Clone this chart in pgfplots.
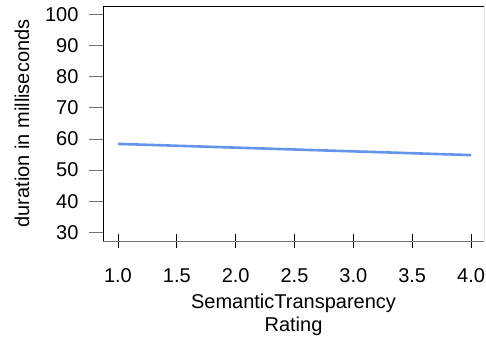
\documentclass[border=0pt]{standalone}
\usepackage{fontspec}
\setmainfont{Liberation Sans}
\usepackage{pgfplots}
\pgfplotsset{compat=1.18}
\definecolor{lineblue}{RGB}{100,149,237}
\begin{document}
\begin{tikzpicture}
\useasboundingbox (-103pt,-97pt) rectangle (383pt,241pt);
\begin{axis}[
  at={(0,0)}, anchor=south west,
  scale only axis, width=381pt, height=235pt,
  xmin=0.873, xmax=4.11, ymin=27.2, ymax=102.7,
  xtick={1,1.5,2,2.5,3,3.5,4},
  xticklabels={1.0,1.5,2.0,2.5,3.0,3.5,4.0},
  ytick={30,40,50,60,70,80,90,100},
  xtick pos=bottom, ytick pos=left,
  xtick align=center, ytick align=outside,
  major tick length=14pt,
  tick style={black!55, line width=0.8pt},
  xtick style={black},
  axis line style={draw=none},
  /pgf/number format/assume math mode=true,
  ticklabel style={font=\fontsize{20}{23}\selectfont},
  xticklabel style={yshift=-17pt},
  yticklabel style={xshift=-7pt},
  label style={font=\fontsize{20}{23}\selectfont},
  xlabel={SemanticTransparency\\Rating},
  xlabel style={align=center, at={(axis description cs:0.5,0)}, anchor=north, yshift=-49pt},
  ylabel={duration in milliseconds},
  ylabel style={at={(axis description cs:0,0.5)}, anchor=center, yshift=81pt},
]
\addplot[lineblue, line width=2.6pt] coordinates {(1,58.4) (4,54.8)};
\draw[black, line width=0.8pt] (rel axis cs:0,0) -- (rel axis cs:0,1) -- (rel axis cs:1,1) -- (rel axis cs:1,0);
\draw[black!55, line width=0.8pt] (rel axis cs:0,0) -- (rel axis cs:1,0);
\end{axis}
\end{tikzpicture}
\end{document}
